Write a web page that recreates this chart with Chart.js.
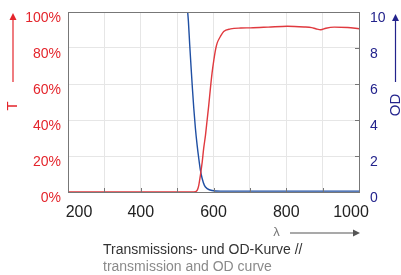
<!DOCTYPE html>
<html>
<head>
<meta charset="utf-8">
<script src="https://cdn.jsdelivr.net/npm/chart.js@4/dist/chart.umd.min.js"></script>
<style>
  html, body { margin: 0; padding: 0; background: #ffffff; }
  #wrap { width: 401px; height: 275px; position: relative; }
  canvas { display: block; }
</style>
</head>
<body>
<div id="wrap"><canvas id="c" width="401" height="275"></canvas></div>
<script>
// ---- data ----
const wavelengthsT = [200, 300, 400, 500, 540, 546, 555, 559.5, 564, 569, 573, 578, 582.5, 587, 591.5, 596, 601, 605.5, 610, 619, 628, 647, 675, 702, 750, 803, 849, 870, 881, 895, 909, 932, 969, 1000];
const transmission = [0, 0, 0, 0, 0, 0, 0.9, 3.7, 9.3, 16.7, 24.2, 31.6, 40, 48.3, 57.6, 66, 73.4, 79, 82.7, 86.4, 89.2, 90.6, 91.1, 91.2, 91.6, 92.1, 91.7, 91.3, 90.7, 90.1, 91.0, 91.6, 91.4, 90.7];

const wavelengthsOD = [524, 527.4, 531, 534.6, 538.5, 542, 545.8, 550.3, 555, 559.5, 564, 568.8, 575, 582.6, 596, 619, 700, 800, 900, 1000];
const opticalDensity = [11.5, 10.4, 9.48, 8.18, 6.88, 5.76, 4.65, 3.53, 2.6, 1.86, 1.21, 0.75, 0.37, 0.19, 0.08, 0.05, 0.05, 0.05, 0.05, 0.05];

const xTickLabels = [200, 400, 600, 800, 1000];
const leftTickLabels = ['0%', '20%', '40%', '60%', '80%', '100%'];
const rightTickLabels = ['0', '2', '4', '6', '8', '10'];

const captionLine1 = 'Transmissions- und OD-Kurve //';
const captionLine2 = 'transmission and OD curve';
const leftTitle = 'T';
const rightTitle = 'OD';
const xTitle = 'λ';

const RED = '#e4252c';
const RED_LINE = '#e0393e';
const NAVY = '#23238c';
const BLUE_LINE = '#1f4fa3';
const FRAME = '#777777';
const GRID = '#e6e6e6';
const FONT = '"Liberation Sans", Arial, Helvetica, sans-serif';

const tData = wavelengthsT.map((x, i) => ({ x, y: transmission[i] }));
const odData = wavelengthsOD.map((x, i) => ({ x, y: opticalDensity[i] }));

function noPad(s) {
  s.paddingTop = 0; s.paddingBottom = 0; s.paddingLeft = 0; s.paddingRight = 0;
}

const extras = {
  id: 'extras',
  beforeDraw(chart) {
    // nudge first/last x labels inward as in the reference
    const items = chart.scales.x.getLabelItems();
    if (!items._adj) {
      items.forEach(it => {
        if (it.label === '200') it.options.translation[0] += 11;
        if (it.label === '1000') it.options.translation[0] -= 8;
      });
      items._adj = true;
    }
  },
  afterDraw(chart) {
    const ctx = chart.ctx;
    const a = chart.chartArea;
    ctx.save();
    // top frame line
    ctx.strokeStyle = FRAME;
    ctx.lineWidth = 1;
    ctx.beginPath();
    ctx.moveTo(a.left, Math.round(a.top) + 0.5);
    ctx.lineTo(a.right, Math.round(a.top) + 0.5);
    ctx.stroke();
    // inner tick marks
    const xs = chart.scales.x;
    xs.ticks.forEach(t => {
      const px = Math.round(xs.getPixelForValue(t.value)) + 0.5;
      ctx.beginPath();
      ctx.moveTo(px, a.bottom);
      ctx.lineTo(px, a.bottom - 4);
      ctx.stroke();
    });
    const yr = chart.scales.y2;
    yr.ticks.forEach(t => {
      const py = Math.round(yr.getPixelForValue(t.value)) + 0.5;
      ctx.beginPath();
      ctx.moveTo(a.right, py);
      ctx.lineTo(a.right - 4, py);
      ctx.stroke();
    });

    function arrowUp(x, y0, y1, color) {
      ctx.strokeStyle = color;
      ctx.fillStyle = color;
      ctx.lineWidth = 1.2;
      ctx.beginPath();
      ctx.moveTo(x, y0);
      ctx.lineTo(x, y1 + 5);
      ctx.stroke();
      ctx.beginPath();
      ctx.moveTo(x, y1);
      ctx.lineTo(x - 3.5, y1 + 7);
      ctx.lineTo(x + 3.5, y1 + 7);
      ctx.closePath();
      ctx.fill();
    }
    arrowUp(13, 82, 13, RED);
    arrowUp(395.5, 82, 14, NAVY);

    // rotated titles
    ctx.font = '15px ' + FONT;
    ctx.textAlign = 'center';
    ctx.textBaseline = 'middle';
    ctx.save();
    ctx.translate(13, 106);
    ctx.rotate(-Math.PI / 2);
    ctx.fillStyle = RED;
    ctx.fillText(leftTitle, 0, 0);
    ctx.restore();
    ctx.save();
    ctx.translate(396, 105);
    ctx.rotate(-Math.PI / 2);
    ctx.fillStyle = NAVY;
    ctx.fillText(rightTitle, 0, 0);
    ctx.restore();

    // lambda + arrow
    ctx.fillStyle = '#777';
    ctx.font = '13px ' + FONT;
    ctx.fillText(xTitle, 276.5, 232);
    ctx.strokeStyle = '#555';
    ctx.fillStyle = '#555';
    ctx.lineWidth = 1.2;
    ctx.beginPath();
    ctx.moveTo(290, 233);
    ctx.lineTo(354, 233);
    ctx.stroke();
    ctx.beginPath();
    ctx.moveTo(360, 233);
    ctx.lineTo(353, 229.5);
    ctx.lineTo(353, 236.5);
    ctx.closePath();
    ctx.fill();

    // caption
    ctx.textAlign = 'left';
    ctx.font = '14px ' + FONT;
    ctx.fillStyle = '#333';
    ctx.fillText(captionLine1, 103, 250);
    ctx.fillStyle = '#8a8a8a';
    ctx.fillText(captionLine2, 103, 267);
    ctx.restore();
  }
};

new Chart(document.getElementById('c'), {
  type: 'line',
  data: {
    datasets: [
      {
        label: 'T',
        data: tData,
        yAxisID: 'y',
        borderColor: RED_LINE,
        borderWidth: 1.4,
        pointRadius: 0,
        cubicInterpolationMode: 'monotone',
        fill: false
      },
      {
        label: 'OD',
        data: odData,
        yAxisID: 'y2',
        borderColor: BLUE_LINE,
        borderWidth: 1.4,
        pointRadius: 0,
        cubicInterpolationMode: 'monotone',
        fill: false
      }
    ]
  },
  options: {
    responsive: false,
    animation: false,
    devicePixelRatio: 1,
    layout: { padding: { top: 12, bottom: 53, left: 0, right: 0 } },
    plugins: { legend: { display: false }, tooltip: { enabled: false } },
    scales: {
      x: {
        type: 'linear',
        min: 200,
        max: 1000,
        afterFit(s) { s.height = 30; noPad(s); },
        ticks: {
          stepSize: 100,
          autoSkip: false,
          maxRotation: 0,
          padding: 11,
          color: '#222',
          font: { family: FONT, size: 16 },
          callback: v => (xTickLabels.includes(v) ? String(v) : '')
        },
        grid: { color: GRID, drawTicks: false },
        border: { color: FRAME, width: 1 }
      },
      y: {
        position: 'left',
        min: 0,
        max: 100,
        afterFit(s) { s.width = 68; noPad(s); },
        ticks: {
          stepSize: 20,
          padding: 7,
          labelOffset: 6,
          color: RED,
          font: { family: FONT, size: 14 },
          callback: (v) => leftTickLabels[v / 20]
        },
        grid: { color: GRID, drawTicks: false },
        border: { color: FRAME, width: 1 }
      },
      y2: {
        position: 'right',
        min: 0,
        max: 10,
        afterFit(s) { s.width = 42; noPad(s); },
        ticks: {
          stepSize: 2,
          padding: 11,
          labelOffset: 6,
          color: NAVY,
          font: { family: FONT, size: 14 },
          callback: (v) => rightTickLabels[v / 2]
        },
        grid: { drawOnChartArea: false, drawTicks: false },
        border: { color: FRAME, width: 1 }
      }
    }
  },
  plugins: [extras]
});
</script>
</body>
</html>
